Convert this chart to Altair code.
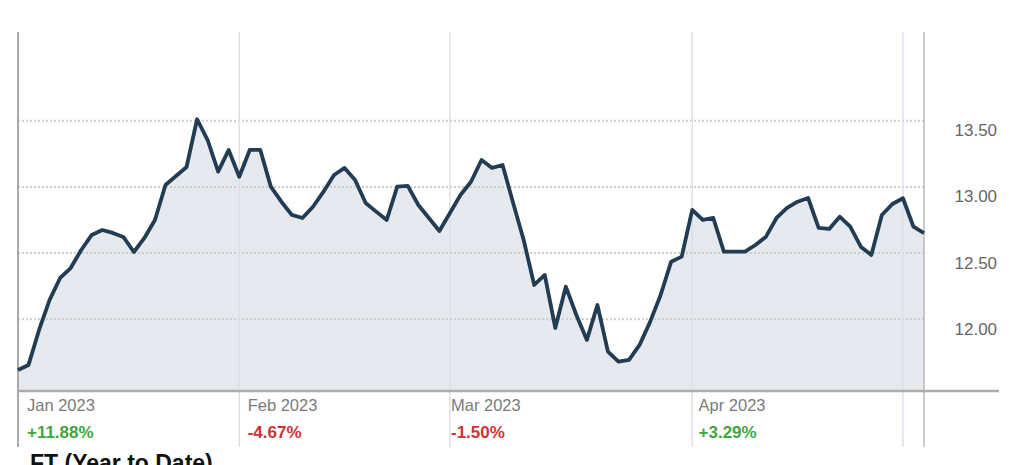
import altair as alt
import pandas as pd

# ---- data ----
values = [11.617, 11.655, 11.919, 12.146, 12.312, 12.387, 12.523, 12.637, 12.674, 12.652,
          12.622, 12.508, 12.614, 12.750, 13.014, 13.082, 13.150, 13.511, 13.354, 13.115,
          13.279, 13.077, 13.279, 13.279, 13.002, 12.888, 12.788, 12.765, 12.850, 12.964,
          13.090, 13.143, 13.052, 12.878, 12.813, 12.750, 13.002, 13.007, 12.863, 12.765,
          12.667, 12.803, 12.939, 13.039, 13.203, 13.143, 13.165, 12.878, 12.599, 12.259,
          12.335, 11.934, 12.246, 12.032, 11.844, 12.108, 11.755, 11.680, 11.693, 11.806,
          11.980, 12.183, 12.435, 12.473, 12.826, 12.750, 12.765, 12.511, 12.511, 12.511,
          12.561, 12.624, 12.765, 12.841, 12.888, 12.916, 12.690, 12.682, 12.775, 12.699,
          12.548, 12.486, 12.788, 12.871, 12.914, 12.699, 12.650]

month_labels = ["Jan 2023", "Feb 2023", "Mar 2023", "Apr 2023"]
month_changes = ["+11.88%", "-4.67%", "-1.50%", "+3.29%"]
change_colors = ["#3fa63f", "#cc3333", "#cc3333", "#3fa63f"]
month_label_idx = [0.85, 21.8, 41.1, 64.6]
month_start_idx = [21, 41, 64, 84]   # Feb, Mar, Apr, May boundaries (trading-day index)
y_ticks = [12.0, 12.5, 13.0, 13.5]
title_text = "FT (Year to Date)"

W, H = 906, 359
YMIN, YMAX = 11.458, 14.17
N = len(values)

df = pd.DataFrame({"i": list(range(N)), "v": values})
xscale = alt.Scale(domain=[0, N - 1], nice=False, zero=False)
yscale = alt.Scale(domain=[YMIN, YMAX], nice=False, zero=False)

yaxis = alt.Axis(orient="right", values=y_ticks, format=".2f", grid=False,
                 domain=False, ticks=False, labelPadding=30, labelAlign="left",
                 labelBaseline="top", labelOffset=2, labelFontSize=17,
                 labelColor="#666666", labelFont="Liberation Sans", title=None)

area = alt.Chart(df).mark_area(color="#e6eaef").encode(
    x=alt.X("i:Q", scale=xscale, axis=None),
    y=alt.Y("v:Q", scale=yscale, axis=yaxis),
    y2=alt.datum(YMIN),
)

grid = alt.Chart(pd.DataFrame({"v": y_ticks})).mark_rule(
    color="#cdcdcd", strokeDash=[2, 2], strokeWidth=2
).encode(y=alt.Y("v:Q", scale=yscale, axis=yaxis), x=alt.value(0), x2=alt.value(W))

vlines = alt.Chart(pd.DataFrame({"m": month_start_idx})).mark_rule(
    color="#dce0e7", strokeWidth=1.5
).encode(x=alt.X("m:Q", scale=xscale, axis=None), y=alt.value(0), y2=alt.value(415))

right_edge = alt.Chart(pd.DataFrame({"m": [N - 1]})).mark_rule(
    color="#b9b9b9", strokeWidth=1.5
).encode(x=alt.X("m:Q", scale=xscale, axis=None), y=alt.value(0), y2=alt.value(415))

left_axis = alt.Chart(pd.DataFrame({"m": [0]})).mark_rule(
    color="#a9a9a9", strokeWidth=2
).encode(x=alt.X("m:Q", scale=xscale, axis=None), y=alt.value(0), y2=alt.value(415))

x_axis_line = alt.Chart(pd.DataFrame({"v": [YMIN]})).mark_rule(
    color="#adadad", strokeWidth=2.5
).encode(y=alt.Y("v:Q", scale=yscale, axis=yaxis), x=alt.value(0), x2=alt.value(981))

line = alt.Chart(df).mark_line(color="#223c53", strokeWidth=3.8, strokeJoin="round").encode(
    x=alt.X("i:Q", scale=xscale, axis=None),
    y=alt.Y("v:Q", scale=yscale, axis=yaxis),
)

lab_df = pd.DataFrame({"lx": month_label_idx, "label": month_labels,
                       "pct": month_changes, "c": change_colors})

month_text = alt.Chart(lab_df).mark_text(
    align="left", baseline="middle", fontSize=16.5, color="#7b7b7b", font="Liberation Sans"
).encode(x=alt.X("lx:Q", scale=xscale, axis=None), y=alt.value(374), text="label:N")

pct_text = alt.Chart(lab_df).mark_text(
    align="left", baseline="middle", fontSize=17, fontWeight="bold", font="Liberation Sans"
).encode(x=alt.X("lx:Q", scale=xscale, axis=None), y=alt.value(401), text="pct:N",
         color=alt.Color("c:N", scale=None))

title = alt.Chart(pd.DataFrame({"t": [title_text]})).mark_text(
    align="left", baseline="top", fontSize=23, fontWeight="bold", color="#111111",
    font="Liberation Sans"
).encode(x=alt.value(12), y=alt.value(421), text="t:N")

chart = alt.layer(area, grid, vlines, right_edge, left_axis, x_axis_line, line,
                  month_text, pct_text, title).properties(
    width=W, height=H,
    autosize=alt.AutoSizeParams(type="none"),
    padding={"left": 10, "top": 24, "right": 92, "bottom": 74},
).configure_view(stroke=None)

chart.save("out.html", embed_options={"renderer": "svg", "actions": False})
